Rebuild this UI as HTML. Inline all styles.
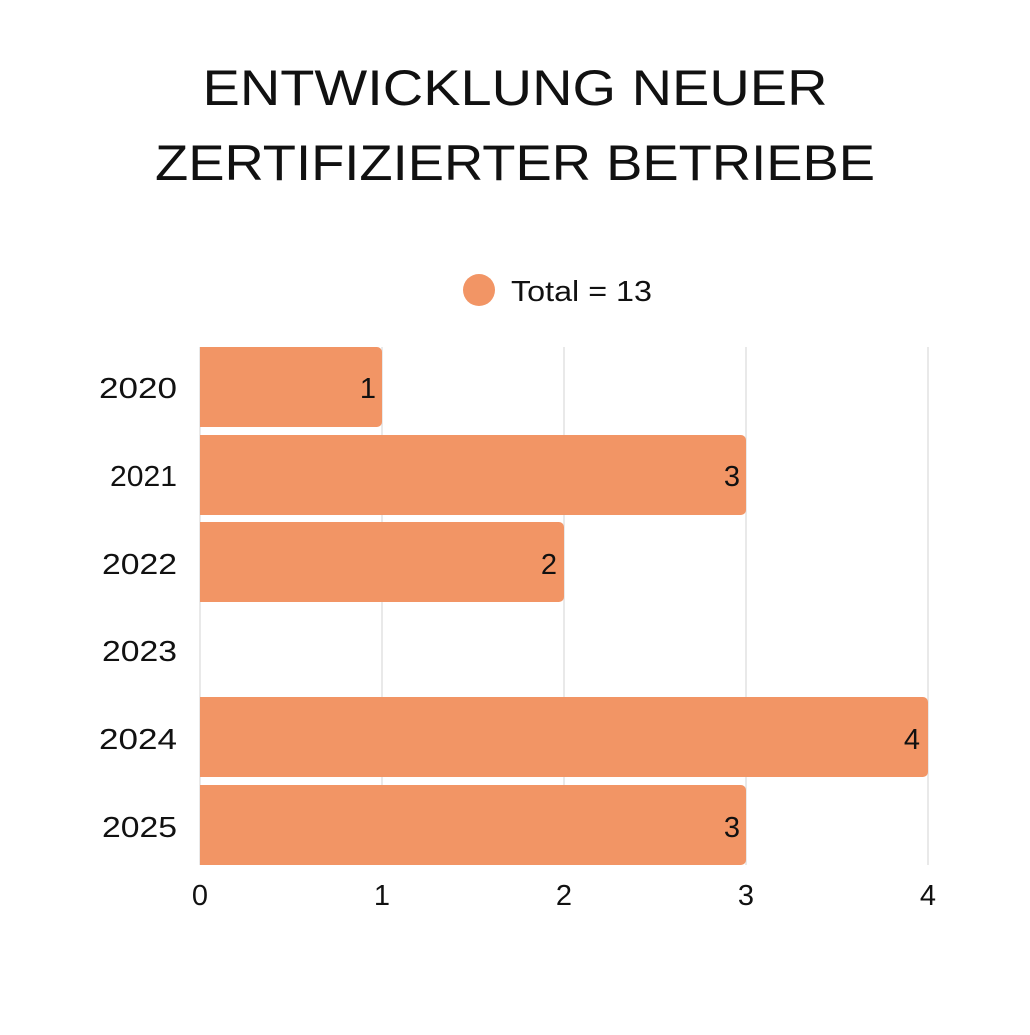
<!DOCTYPE html>
<html><head><meta charset="utf-8"><style>html,body{margin:0;padding:0;background:#fff}</style></head>
<body>
<svg width="1030" height="1030" viewBox="0 0 1030 1030" xmlns="http://www.w3.org/2000/svg" font-family="Liberation Sans, sans-serif" fill="#111">
<text x="515" y="105" font-size="50" text-anchor="middle" textLength="625" lengthAdjust="spacingAndGlyphs">ENTWICKLUNG NEUER</text>
<text x="515" y="180" font-size="50" text-anchor="middle" textLength="720" lengthAdjust="spacingAndGlyphs">ZERTIFIZIERTER BETRIEBE</text>
<circle cx="479" cy="290" r="16" fill="#F29565"/>
<text x="511" y="301" font-size="29" textLength="141" lengthAdjust="spacingAndGlyphs">Total = 13</text>
<g stroke="#e2e2e2" stroke-width="1.5">
<line x1="200" y1="347" x2="200" y2="865"/>
<line x1="382" y1="347" x2="382" y2="865"/>
<line x1="564" y1="347" x2="564" y2="865"/>
<line x1="746" y1="347" x2="746" y2="865"/>
<line x1="928" y1="347" x2="928" y2="865"/>
</g>
<g fill="#F29565">
<path d="M200 347H377a5 5 0 0 1 5 5V422a5 5 0 0 1-5 5H200Z"/>
<path d="M200 435H741a5 5 0 0 1 5 5V510a5 5 0 0 1-5 5H200Z"/>
<path d="M200 522H559a5 5 0 0 1 5 5V597a5 5 0 0 1-5 5H200Z"/>
<path d="M200 697H923a5 5 0 0 1 5 5V772a5 5 0 0 1-5 5H200Z"/>
<path d="M200 785H741a5 5 0 0 1 5 5V860a5 5 0 0 1-5 5H200Z"/>
</g>
<g font-size="29" text-anchor="end">
<text x="376" y="398">1</text>
<text x="740" y="486">3</text>
<text x="557" y="574">2</text>
<text x="920" y="749">4</text>
<text x="740" y="837">3</text>
</g>
<g font-size="29" text-anchor="end">
<text x="177" y="398" textLength="78" lengthAdjust="spacingAndGlyphs">2020</text>
<text x="177" y="486" textLength="67" lengthAdjust="spacingAndGlyphs">2021</text>
<text x="177" y="574" textLength="75" lengthAdjust="spacingAndGlyphs">2022</text>
<text x="177" y="661" textLength="75" lengthAdjust="spacingAndGlyphs">2023</text>
<text x="177" y="749" textLength="78" lengthAdjust="spacingAndGlyphs">2024</text>
<text x="177" y="837" textLength="75" lengthAdjust="spacingAndGlyphs">2025</text>
</g>
<g font-size="29" text-anchor="middle">
<text x="200" y="905">0</text>
<text x="382" y="905">1</text>
<text x="564" y="905">2</text>
<text x="746" y="905">3</text>
<text x="928" y="905">4</text>
</g>
</svg>
</body></html>
